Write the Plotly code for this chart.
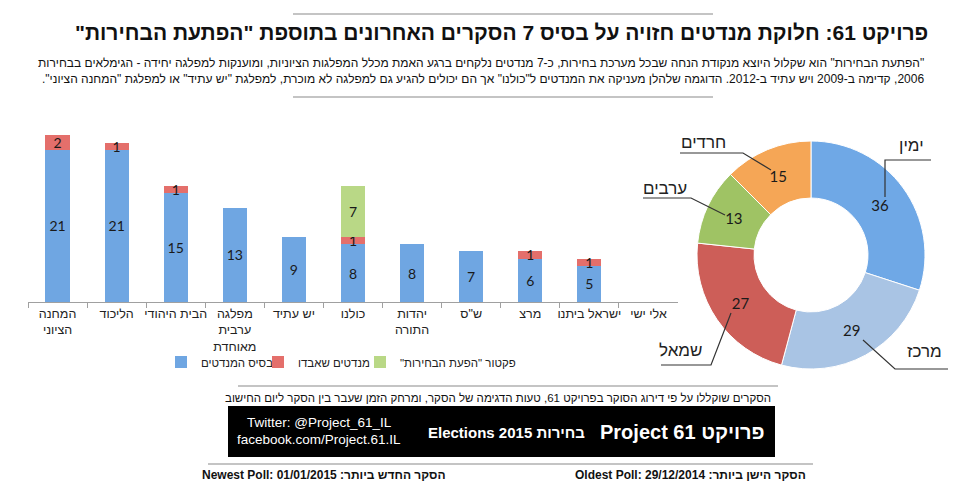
import plotly.graph_objects as go

# ---------------- data ----------------
parties = ["המחנה<br>הציוני", "הליכוד", "הבית היהודי", "מפלגה<br>ערבית<br>מאוחדת", "יש עתיד",
           "כולנו", "יהדות<br>התורה", 'ש"ס', "מרצ", "ישראל ביתנו", "אלי ישי"]
base_seats = [21, 21, 15, 13, 9, 8, 8, 7, 6, 5, 0]
lost_seats = [2, 1, 1, 0, 0, 1, 0, 0, 1, 1, 0]
surprise_seats = [0, 0, 0, 0, 0, 7, 0, 0, 0, 0, 0]

series_names = ["בסיס המנדטים", "מנדטים שאבדו", 'פקטור "הפעת הבחירות"']

blocs = ["ימין", "מרכז", "שמאל", "ערבים", "חרדים"]
bloc_seats = [36, 29, 27, 13, 15]

# ---------------- helpers / style ----------------
W, H = 960, 484
def px(x):
    return x / W
def py(y):
    return 1 - y / H
RLE, PDF = "\u202b", "\u202c"
def rtl(s):
    return RLE + s + PDF

FONT = "Liberation Sans, Arial, sans-serif"
NUMFONT = "Lato, Liberation Sans, sans-serif"

c_blue = "#6fa6e2"
c_red = "#e46f6b"
c_green = "#b9d886"
pie_colors = ["#6fa8e6", "#a9c4e4", "#cd5e58", "#9fc364", "#f5a656"]

def labels(vals):
    return [str(v) if v else "" for v in vals]

fig = go.Figure()
for name, vals, col, lg in [(series_names[0], base_seats, c_blue, "legend"),
                            (series_names[1], lost_seats, c_red, "legend2"),
                            (series_names[2], surprise_seats, c_green, "legend3")]:
    fig.add_trace(go.Bar(
        x=parties, y=vals, name=rtl(name), legend=lg,
        marker=dict(color=col, line=dict(width=0)),
        text=labels(vals), textposition="inside", insidetextanchor="middle",
        constraintext="none", textangle=0, cliponaxis=False,
        textfont=dict(family=NUMFONT, size=14, color="#1a1a1a"),
        hoverinfo="skip"))

fig.add_trace(go.Pie(
    labels=blocs, values=bloc_seats, sort=False, direction="clockwise", rotation=0,
    hole=0.5, marker=dict(colors=pie_colors, line=dict(color="white", width=1)),
    textinfo="value", textposition="inside", insidetextorientation="horizontal",
    textfont=dict(family=NUMFONT, size=15, color="#1a1a1a"),
    domain=dict(x=[px(803 - 114), px(803 + 114)], y=[py(247 + 114), py(247 - 114)]),
    showlegend=False, hoverinfo="skip"))

# ---------------- decorations ----------------
shapes = []
gray = "#b0b0b0"
for (x0, x1, y) in [(285, 705, 6), (285, 705, 89), (230, 770, 378), (200, 805, 456)]:
    shapes.append(dict(type="line", xref="paper", yref="paper", x0=px(x0), x1=px(x1),
                       y0=py(y), y1=py(y), line=dict(color=gray, width=1.5)))
shapes.append(dict(type="rect", xref="paper", yref="paper", x0=px(220), x1=px(767),
                   y0=py(449), y1=py(398), fillcolor="black", line=dict(width=0), layer="below"))

# pie leader lines (layout, pixel space)
leaders = [
    [(877, 189), (877, 152), (923, 152)],      # ימין
    [(855, 332), (887, 361), (940, 361)],      # מרכז
    [(723, 305), (703, 357), (653, 357)],      # שמאל
    [(717, 207), (683, 190), (635, 190)],      # ערבים
    [(763, 162), (735, 145), (672, 145)],      # חרדים
]
for pts in leaders:
    path = "M " + " L ".join(f"{px(a):.5f},{py(b):.5f}" for a, b in pts)
    shapes.append(dict(type="path", xref="paper", yref="paper", path=path,
                       line=dict(color="#333333", width=1.2)))

label_pos = [(903, 137), (916, 343), (672, 342), (657, 180), (695, 134)]

annotations = []
def ann(text, x, y, size, color="#111", family=FONT, xanchor="center", bold=False):
    t = f"<b>{text}</b>" if bold else text
    annotations.append(dict(text=t, x=px(x), y=py(y), xref="paper", yref="paper",
                            xanchor=xanchor, yanchor="middle", showarrow=False,
                            font=dict(family=family, size=size, color=color)))

ann(rtl('פרויקט 61: חלוקת מנדטים חזויה על בסיס 7 הסקרים האחרונים בתוספת "הפתעת הבחירות"'),
    494, 25, 21, "#111", FONT, bold=True)
ann(rtl('"הפתעת הבחירות" הוא שקלול היוצא מנקודת הנחה שבכל מערכת בחירות, כ-7 מנדטים נלקחים ברגע האמת מכלל המפלגות הציוניות, ומוענקות למפלגה יחידה - הגימלאים בבחירות'),
    918, 55, 12, "#111", FONT, xanchor="right")
ann(rtl('2006, קדימה ב-2009 ויש עתיד ב-2012. הדוגמה שלהלן מעניקה את המנדטים ל"כולנו" אך הם יכולים להגיע גם למפלגה לא מוכרת, למפלגת "יש עתיד" או למפלגת "המחנה הציוני".'),
    918, 71.5, 12, "#111", FONT, xanchor="right")

for name, (x, y) in zip(blocs, label_pos):
    ann(name, x, y, 17, "#222")

ann(rtl("הסקרים שוקללו על פי דירוג הסוקר בפרויקט 61, טעות הדגימה של הסקר, ומרחק הזמן שעבר בין הסקר ליום החישוב"),
    765, 390, 11.5, "#111", xanchor="right")
ann(rtl("פרויקט Project 61"), 759, 424, 20, "white", xanchor="right", bold=True)
ann(rtl("בחירות Elections 2015"), 579, 424, 15, "white", xanchor="right", bold=True)
ann("Twitter: @Project_61_IL", 311, 414, 13.5, "white")
ann("facebook.com/Project.61.IL", 311, 431, 13.5, "white")
ann(rtl("הסקר הישן ביותר: Oldest Poll: 29/12/2014"), 800, 467, 12, "#111", xanchor="right", bold=True)
ann(rtl("הסקר החדש ביותר: Newest Poll: 01/01/2015"), 440, 467, 12, "#111", xanchor="right", bold=True)

def legend_at(xpix):
    return dict(orientation="h", x=px(xpix), y=py(354), xanchor="left", yanchor="middle",
                itemwidth=30, bgcolor="rgba(0,0,0,0)",
                font=dict(family=FONT, size=11.5, color="#222"))

fig.update_layout(
    width=W, height=H, autosize=False,
    margin=dict(l=0, r=0, t=0, b=0),
    paper_bgcolor="white", plot_bgcolor="white",
    barmode="stack", bargap=0.59,
    font=dict(family=FONT, size=12, color="#222"),
    xaxis=dict(domain=[px(20), px(670)], type="category", showline=True, linecolor="#a0a0a0",
               linewidth=1, ticks="outside", tickson="boundaries", ticklen=5, tickcolor="#a0a0a0",
               tickangle=0,
               tickfont=dict(family=FONT, size=12.5, color="#222"), showgrid=False, zeroline=False,
               fixedrange=True),
    yaxis=dict(domain=[py(294), py(113)], range=[0, 25], visible=False, fixedrange=True),
    legend=legend_at(153),
    legend2=legend_at(250),
    legend3=legend_at(352),
    shapes=shapes, annotations=annotations,
    showlegend=True,
)

fig.write_html("out.html")
